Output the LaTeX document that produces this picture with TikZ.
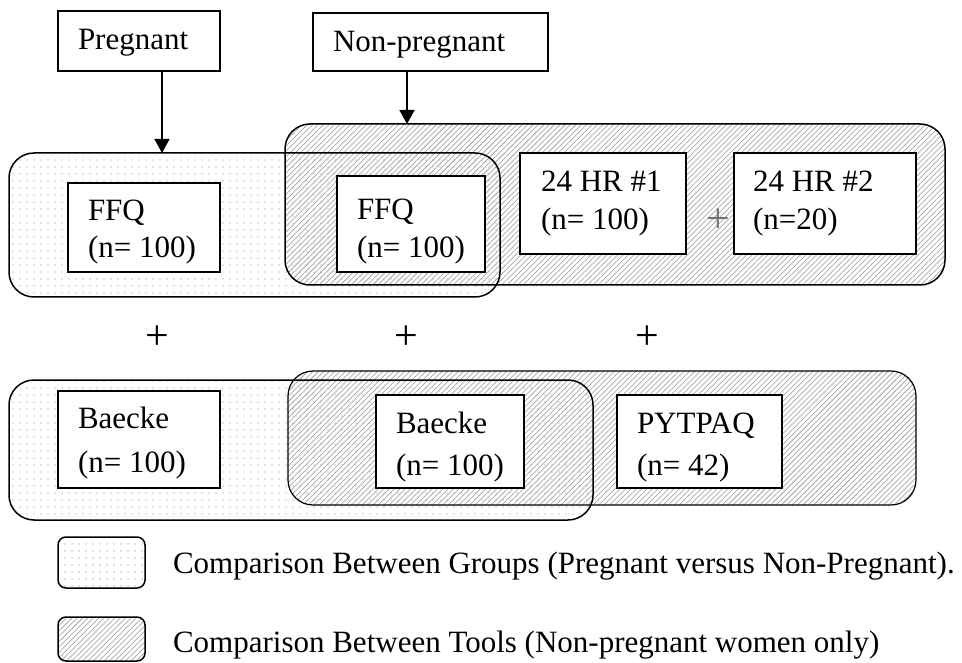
\documentclass[tikz,border=0pt]{standalone}
\usepackage{fontspec}
\setmainfont{Liberation Serif}
\usetikzlibrary{patterns.meta,arrows.meta}
\tikzset{
  txt/.style={inner sep=0pt, outer sep=0pt, anchor=base west, font=\fontsize{31}{37}\selectfont},
  plus/.style={inner sep=0pt, outer sep=0pt, font=\fontsize{42}{48}\selectfont},
  wbox/.style={draw=black, line width=1.5pt, fill=white, rectangle, inner sep=0pt, outer sep=0pt},
  dotfill/.style={pattern={Dots[distance=6.5pt, radius=0.7pt]}, pattern color=black!45},
  hatchfill/.style={pattern={Lines[angle=45, distance=3.8pt, line width=0.55pt]}, pattern color=black!42},
  region/.style={rectangle, rounded corners=25pt, inner sep=0pt, outer sep=0pt},
  border/.style={draw=black, line width=1.5pt},
  arr/.style={line width=1.5pt, -{Triangle[width=15pt,length=14pt]}}
}
\begin{document}
\begin{tikzpicture}[x=1pt,y=-1pt]
\useasboundingbox (0,0) rectangle (962,663);
% top regions
\node[region, dotfill, minimum width=491pt, minimum height=144pt] (g1) at (254.5,225) {};
\node[region, hatchfill, minimum width=660pt, minimum height=161pt] (t1) at (615,204.5) {};
\node[region, border, minimum width=491pt, minimum height=144pt] (g1b) at (254.5,225) {};
\node[region, border, minimum width=660pt, minimum height=161pt] (t1b) at (615,204.5) {};
% bottom regions
\node[region, dotfill, minimum width=584pt, minimum height=140pt] (g2) at (301,450) {};
\node[region, hatchfill, minimum width=628pt, minimum height=134pt] (t2) at (602,438) {};
\node[region, draw=black, line width=1.2pt, minimum width=628pt, minimum height=134pt] (t2b) at (602,438) {};
\node[region, border, minimum width=584pt, minimum height=140pt] (g2b) at (301,450) {};
% header boxes
\node[wbox, minimum width=162pt, minimum height=60pt] (preg) at (139,41) {};
\node[txt] (pregt) at (78,50) {Pregnant};
\node[wbox, minimum width=235pt, minimum height=58pt] (nonp) at (430.5,42) {};
\node[txt] (nonpt) at (333,52) {Non-pregnant};
\coordinate (pa) at ([xshift=23pt]preg.south);
\coordinate (na) at ([xshift=-23.5pt]nonp.south);
\draw[arr] (pa) -- (pa |- g1b.north);
\draw[arr] (na) -- (na |- t1b.north);
% top row boxes
\node[wbox, minimum width=152pt, minimum height=89pt] (ffq1) at (144,227.5) {};
\node[txt] (ffq1a) at (88,221) {FFQ};
\node[txt] (ffq1b) at (88,258) {(n= 100)};
\node[wbox, minimum width=148pt, minimum height=96pt] (ffq2) at (411,224) {};
\node[txt] (ffq2a) at (357,220) {FFQ};
\node[txt] (ffq2b) at (357,258) {(n= 100)};
\node[wbox, minimum width=166pt, minimum height=101pt] (hr1) at (603,203.5) {};
\node[txt] (hr1a) at (541,192) {24 HR \#1};
\node[txt] (hr1b) at (541,230) {(n= 100)};
\node[wbox, minimum width=182pt, minimum height=101pt] (hr2) at (825,203.5) {};
\node[txt] (hr2a) at (753,192) {24 HR \#2};
\node[txt] (hr2b) at (753,230) {(n=20)};
\node[plus, text=black!55] (p0) at (718,221) {+};
% plus row
\node[plus] (p1) at (157,338) {+};
\node[plus] (p2) at (406,338) {+};
\node[plus] (p3) at (647,338) {+};
% bottom row boxes
\node[wbox, minimum width=162pt, minimum height=97pt] (bae1) at (139,439.5) {};
\node[txt] (bae1a) at (78,428) {Baecke};
\node[txt] (bae1b) at (78,472) {(n= 100)};
\node[wbox, minimum width=148pt, minimum height=93pt] (bae2) at (450,441.5) {};
\node[txt] (bae2a) at (396,433) {Baecke};
\node[txt] (bae2b) at (396,475) {(n= 100)};
\node[wbox, minimum width=165pt, minimum height=93pt] (pyt) at (699.5,441.5) {};
\node[txt] (pyta) at (637,433) {PYTPAQ};
\node[txt] (pytb) at (637,475) {(n= 42)};
% legend
\node[rectangle, rounded corners=8pt, dotfill, minimum width=87pt, minimum height=51pt, inner sep=0pt] (l1f) at (101.5,562.5) {};
\node[rectangle, rounded corners=8pt, border, minimum width=87pt, minimum height=51pt, inner sep=0pt] (l1) at (101.5,562.5) {};
\node[txt] (l1t) at (173,573) {Comparison Between Groups (Pregnant versus Non-Pregnant).};
\node[rectangle, rounded corners=8pt, hatchfill, minimum width=87pt, minimum height=44pt, inner sep=0pt] (l2f) at (101.5,639) {};
\node[rectangle, rounded corners=8pt, border, minimum width=87pt, minimum height=44pt, inner sep=0pt] (l2) at (101.5,639) {};
\node[txt] (l2t) at (173,652) {Comparison Between Tools (Non-pregnant women only)};
\end{tikzpicture}
\end{document}
